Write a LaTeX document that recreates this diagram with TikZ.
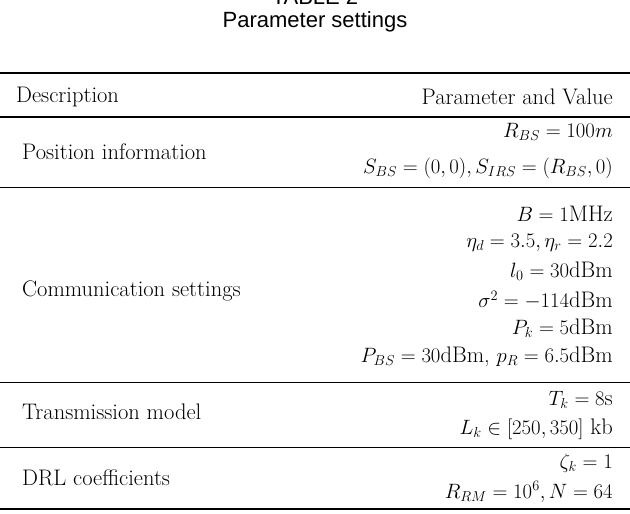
\documentclass[tikz,border=0pt]{standalone}
\usepackage{fontspec}
\newfontfamily\capfont{Liberation Sans}
\begin{document}
\begin{tikzpicture}[x=1pt,y=-1pt,
  desc/.style={anchor=west,inner sep=0pt,font=\fontsize{22.5}{26}\selectfont},
  val/.style={anchor=east,inner sep=0pt,font=\fontsize{22.5}{26}\selectfont},
  captext/.style={inner sep=0pt,font=\capfont\fontsize{22}{26}\selectfont},
  thickrule/.style={line width=1.3pt},
  thinrule/.style={line width=0.8pt}]
\useasboundingbox (0,0) rectangle (630,514);
\begin{scope}
\clip (0,0) rectangle (630,514);
\node[captext] (t1) at (315,-3) {TABLE 2};
\end{scope}
\node[captext] (t2) at (315,22) {Parameter settings};
\draw[thickrule] (0,73) -- (630,73);
\node[desc] (h1) at (16,97) {Description};
\node[val] (h2) at (613,97) {Parameter and Value};
\draw[thickrule] (0,117) -- (630,117);
\node[desc] (d1) at (22,152) {Position information};
\node[val] (v11) at (613,132) {$R_{BS}=100m$};
\node[val] (v12) at (613,168) {$S_{BS}=(0,0), S_{IRS}=(R_{BS},0)$};
\draw[thinrule] (0,187) -- (630,187);
\node[desc] (d2) at (22,291) {Communication settings};
\node[val] (v21) at (613,214) {$B=1\mathrm{MHz}$};
\node[val] (v22) at (613,243) {$\eta_d=3.5, \eta_r=2.2$};
\node[val] (v23) at (613,271) {$l_0=30\mathrm{dBm}$};
\node[val] (v24) at (613,300) {$\sigma^2=-114\mathrm{dBm}$};
\node[val] (v25) at (613,328) {$P_k=5\mathrm{dBm}$};
\node[val] (v26) at (613,357) {$P_{BS}=30\mathrm{dBm}$, $p_R=6.5\mathrm{dBm}$};
\draw[thinrule] (0,382) -- (630,382);
\node[desc] (d3) at (22,412) {Transmission model};
\node[val] (v31) at (613,400) {$T_k=8\mathrm{s}$};
\node[val] (v32) at (613,429) {$L_k\in[250,350]$ kb};
\draw[thinrule] (0,447) -- (630,447);
\node[desc] (d4) at (22,478) {DRL coefficients};
\node[val] (v41) at (613,463) {$\zeta_k=1$};
\node[val] (v42) at (613,492) {$R_{RM}=10^6, N=64$};
\draw[thickrule] (0,509) -- (630,509);
\end{tikzpicture}
\end{document}
